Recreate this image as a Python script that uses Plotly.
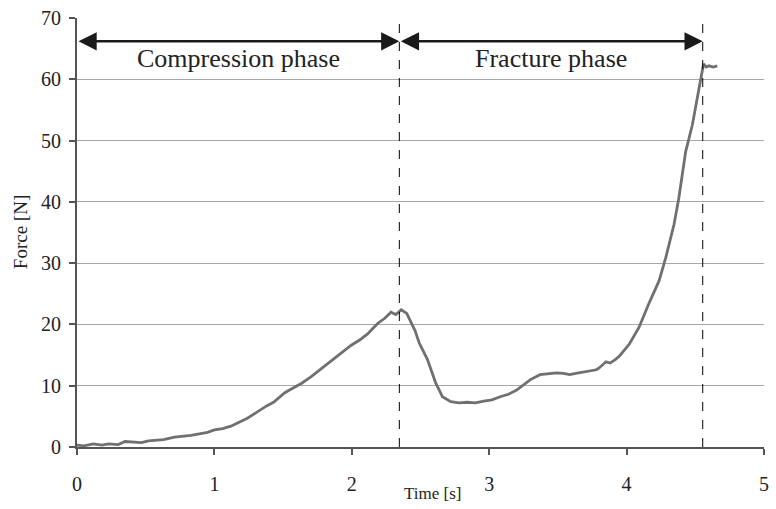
import plotly.graph_objects as go

time_s = [0.0, 0.05, 0.12, 0.18, 0.23, 0.30, 0.35, 0.42, 0.47, 0.52, 0.56, 0.63, 0.71, 0.77, 0.83, 0.90,
          0.95, 1.0, 1.06, 1.12, 1.18, 1.24, 1.29, 1.33, 1.38, 1.43, 1.47, 1.515, 1.57, 1.635, 1.70, 1.756,
          1.82, 1.876, 1.94, 1.996, 2.06, 2.117, 2.16, 2.19, 2.24, 2.285, 2.32, 2.36, 2.40, 2.43, 2.46, 2.49,
          2.55, 2.61, 2.66, 2.72, 2.78, 2.84, 2.90, 2.96, 3.02, 3.08, 3.14, 3.20, 3.25, 3.30, 3.37, 3.43,
          3.49, 3.54, 3.586, 3.63, 3.68, 3.73, 3.78, 3.80, 3.85, 3.88, 3.92, 3.95, 4.02, 4.09, 4.16, 4.236,
          4.285, 4.345, 4.38, 4.43, 4.478, 4.514, 4.545, 4.56, 4.58, 4.60, 4.63, 4.66]
force_n = [0.3, 0.2, 0.5, 0.3, 0.5, 0.4, 0.9, 0.8, 0.7, 1.0, 1.1, 1.2, 1.6, 1.7, 1.9, 2.2,
           2.4, 2.8, 3.0, 3.4, 4.0, 4.7, 5.4, 6.0, 6.7, 7.3, 8.0, 8.9, 9.6, 10.4, 11.4, 12.4,
           13.5, 14.6, 15.6, 16.6, 17.5, 18.5, 19.5, 20.2, 21.0, 22.0, 21.6, 22.4, 21.8, 20.5, 19.0, 17.0,
           14.3, 10.5, 8.2, 7.4, 7.2, 7.3, 7.2, 7.5, 7.7, 8.2, 8.6, 9.3, 10.2, 11.0, 11.8, 12.0,
           12.1, 12.0, 11.8, 12.0, 12.2, 12.3, 12.6, 12.9, 13.9, 13.7, 14.3, 14.9, 16.8, 19.5, 23.3, 27.1,
           30.9, 36.3, 40.6, 48.2, 52.5, 56.9, 60.7, 62.5, 62.0, 62.2, 62.0, 62.2]

phase_bounds = [0.0, 2.346, 4.554]
phase_names = ["Compression phase", "Fracture phase"]
arrow_y = 66.2
label_y = 63.4
x_ticks = [0, 1, 2, 3, 4, 5]
y_ticks = [0, 10, 20, 30, 40, 50, 60, 70]

FONT = "Liberation Serif"

fig = go.Figure()
fig.add_trace(go.Scatter(x=time_s, y=force_n, mode="lines",
                         line=dict(color="#707070", width=2.8), showlegend=False))

for xb in phase_bounds[1:]:
    fig.add_shape(type="line", x0=xb, x1=xb, y0=0, y1=70, xref="x", yref="y",
                  line=dict(color="black", width=1, dash="dash"))

for i, name in enumerate(phase_names):
    a, b = phase_bounds[i], phase_bounds[i + 1]
    fig.add_annotation(x=b, y=arrow_y, ax=a, ay=arrow_y, xref="x", yref="y", axref="x", ayref="y",
                       showarrow=True, arrowhead=2, startarrowhead=2, arrowside="end+start",
                       arrowsize=1.4, startarrowsize=1.4, arrowwidth=2.6, arrowcolor="#1a1a1a",
                       standoff=0, startstandoff=0, text="")
    fig.add_annotation(x=(a + b) / 2, y=label_y, xref="x", yref="y", text=name, showarrow=False,
                       font=dict(family=FONT, size=26, color="#222222"), yanchor="middle")

fig.add_annotation(x=2.59, y=-0.109, xref="x", yref="paper", text="Time [s]", showarrow=False,
                   font=dict(family=FONT, size=17, color="#222222"), yanchor="middle")
fig.add_annotation(x=-0.082, y=35, xref="paper", yref="y", text="Force [N]", showarrow=False,
                   textangle=-90, font=dict(family=FONT, size=19, color="#222222"), xanchor="center")

fig.update_xaxes(range=[0, 5], tickvals=x_ticks, showgrid=False, zeroline=False,
                 showline=True, linecolor="#555555", linewidth=2, ticks="outside", ticklen=6,
                 tickwidth=2, tickcolor="#555555", ticklabelstandoff=12,
                 tickfont=dict(family=FONT, size=20, color="#222222"))
fig.update_yaxes(range=[0, 70], tickvals=y_ticks, showgrid=True, gridcolor="#a8a8a8", gridwidth=1.2,
                 zeroline=False, showline=True, linecolor="#555555", linewidth=2, ticks="outside",
                 ticklen=6, tickwidth=2, tickcolor="#555555", ticklabelstandoff=4,
                 tickfont=dict(family=FONT, size=20, color="#222222"))

fig.update_layout(width=776, height=509, margin=dict(l=77, r=7, t=16, b=62),
                  plot_bgcolor="white", paper_bgcolor="white",
                  font=dict(family=FONT, color="#222222"))

fig.write_html("out.html")
